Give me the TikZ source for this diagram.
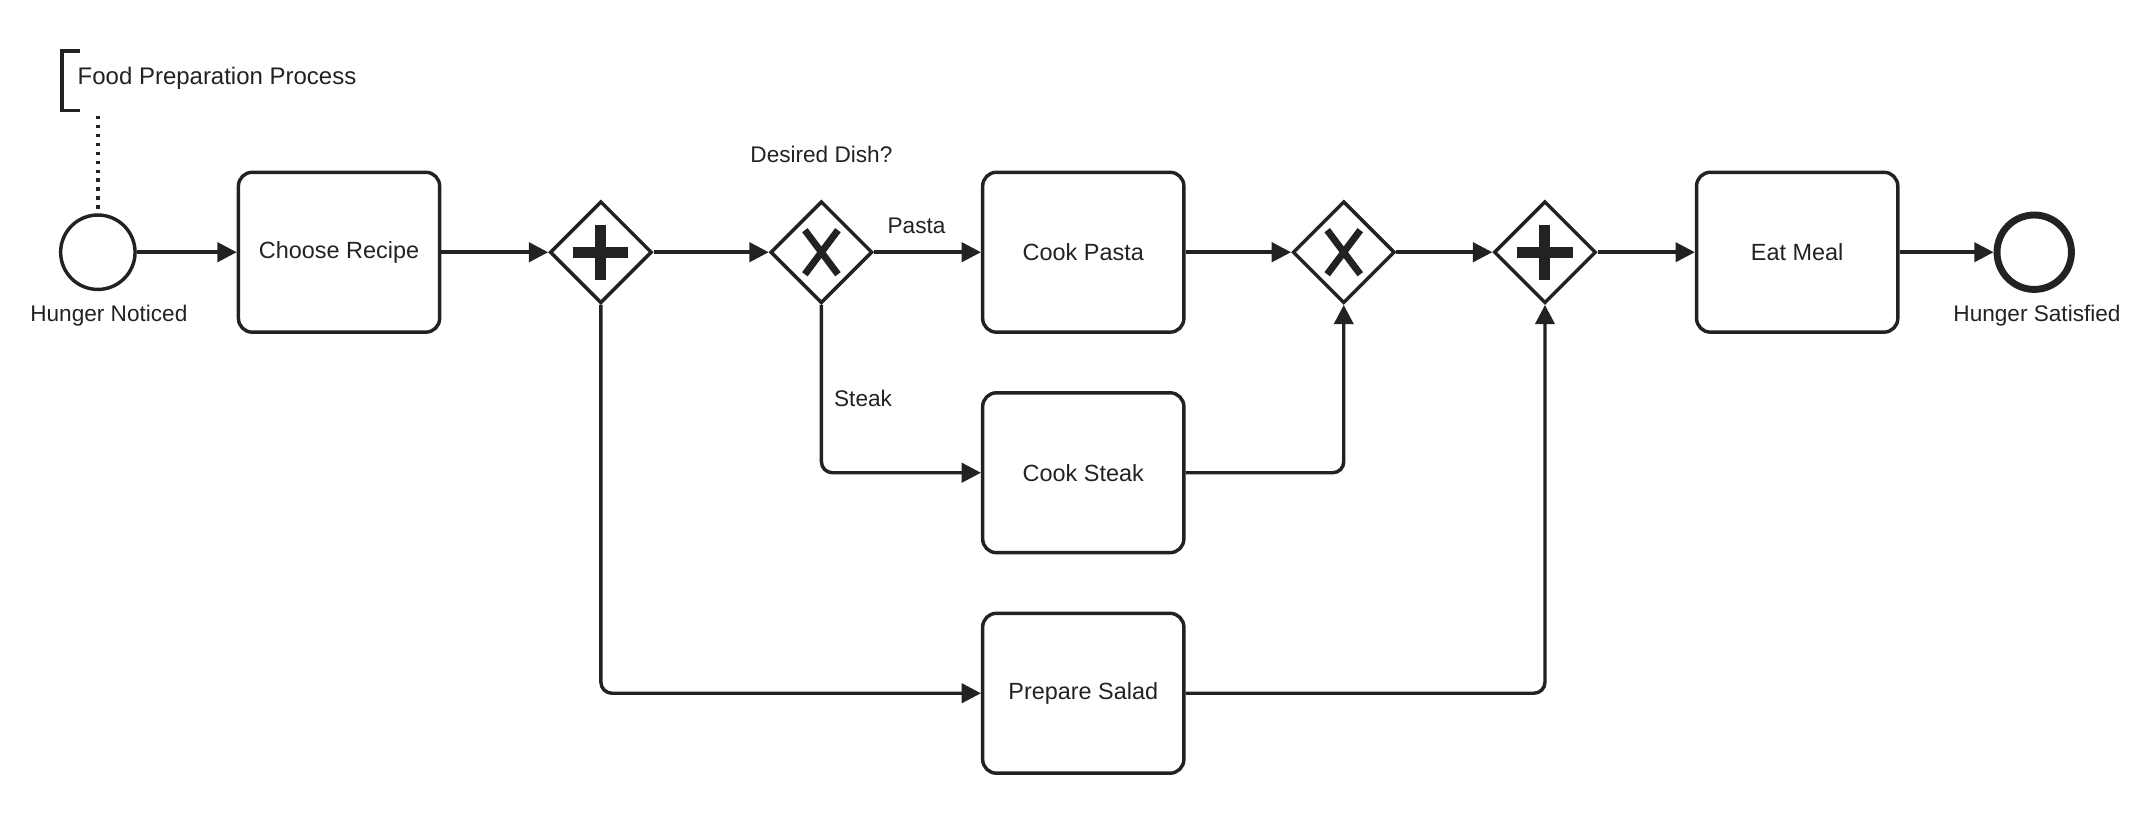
\documentclass[tikz,border=0pt]{standalone}
\usepackage{fontspec}
\setmainfont{Liberation Sans}
\usetikzlibrary{positioning,shapes.geometric,arrows.meta}
\definecolor{ink}{HTML}{222222}

\tikzset{
  task/.style={draw=ink, text=ink, line width=1.25pt, rounded corners=5pt, minimum width=73pt,
    minimum height=58pt, inner sep=0pt, font=\fontsize{8.5}{10}\selectfont},
  gate/.style={draw=ink, diamond, line width=1.25pt, minimum width=37pt, minimum height=37pt,
    inner sep=0pt, fill=white},
  event/.style={draw=ink, circle, line width=1.25pt, minimum size=27pt, inner sep=0pt},
  flow/.style={draw=ink, line width=1.25pt, rounded corners=4pt, -{Triangle[length=7pt,width=7pt]}},
  lbl/.style={text=ink, font=\fontsize{8.2}{10}\selectfont, inner sep=0pt},
}

\begin{document}
\begin{tikzpicture}[x=0.5pt,y=-0.5pt]
\useasboundingbox (0,0) rectangle (1560,596);
% events
\node[event] (start) at (71,183) {};
\node[event, line width=2.5pt] (end) at (1476,183) {};
\node[lbl] at (79,229) {Hunger Noticed};
\node[lbl] at (1478,229) {Hunger Satisfied};
% tasks
\node[task] (recipe) at (246,183) {Choose Recipe};
\node[task] (pasta) at (786,183) {Cook Pasta};
\node[task] (steak) at (786,343) {Cook Steak};
\node[task] (salad) at (786,503) {Prepare Salad};
\node[task] (eat) at (1304,183) {Eat Meal};
% gateways
\node[gate] (fork) at (436,183) {};
\node[gate] (dish) at (596,183) {};
\node[gate] (merge) at (975,183) {};
\node[gate] (join) at (1121,183) {};
\foreach \g in {fork,join}
  \draw[ink, line width=4pt] ([xshift=-10pt]\g.center) -- ([xshift=10pt]\g.center)
    ([yshift=-10pt]\g.center) -- ([yshift=10pt]\g.center);
\foreach \g in {dish,merge}
  \draw[ink, line width=2.5pt] ([shift={(-6pt,-8pt)}]\g.center) -- ([shift={(6pt,8pt)}]\g.center)
    ([shift={(-6pt,8pt)}]\g.center) -- ([shift={(6pt,-8pt)}]\g.center);
% annotation
\coordinate (note) at (71,84);
\draw[ink, line width=1.25pt] (58,37) -- (45,37) -- (45,80) -- (58,80);
\node[lbl, anchor=west, font=\fontsize{8.7}{10}\selectfont] at (56,57) {Food Preparation Process};
\draw[ink, line width=1.25pt, dotted] (note) -- (start);
\node[lbl] at (596,112) {Desired Dish?};
% flows
\draw[flow] (start) -- (recipe);
\draw[flow] (recipe) -- (fork);
\draw[flow] (fork) -- (dish);
\draw[flow] (dish) -- node[lbl, above=6pt, xshift=-4pt] {Pasta} (pasta);
\draw[flow] (dish) |- node[lbl, pos=0.28, right=4pt] {Steak} (steak);
\draw[flow] (fork) |- (salad);
\draw[flow] (pasta) -- (merge);
\draw[flow] (steak) -| (merge);
\draw[flow] (merge) -- (join);
\draw[flow] (salad) -| (join);
\draw[flow] (join) -- (eat);
\draw[flow] (eat) -- (end);
\end{tikzpicture}
\end{document}
